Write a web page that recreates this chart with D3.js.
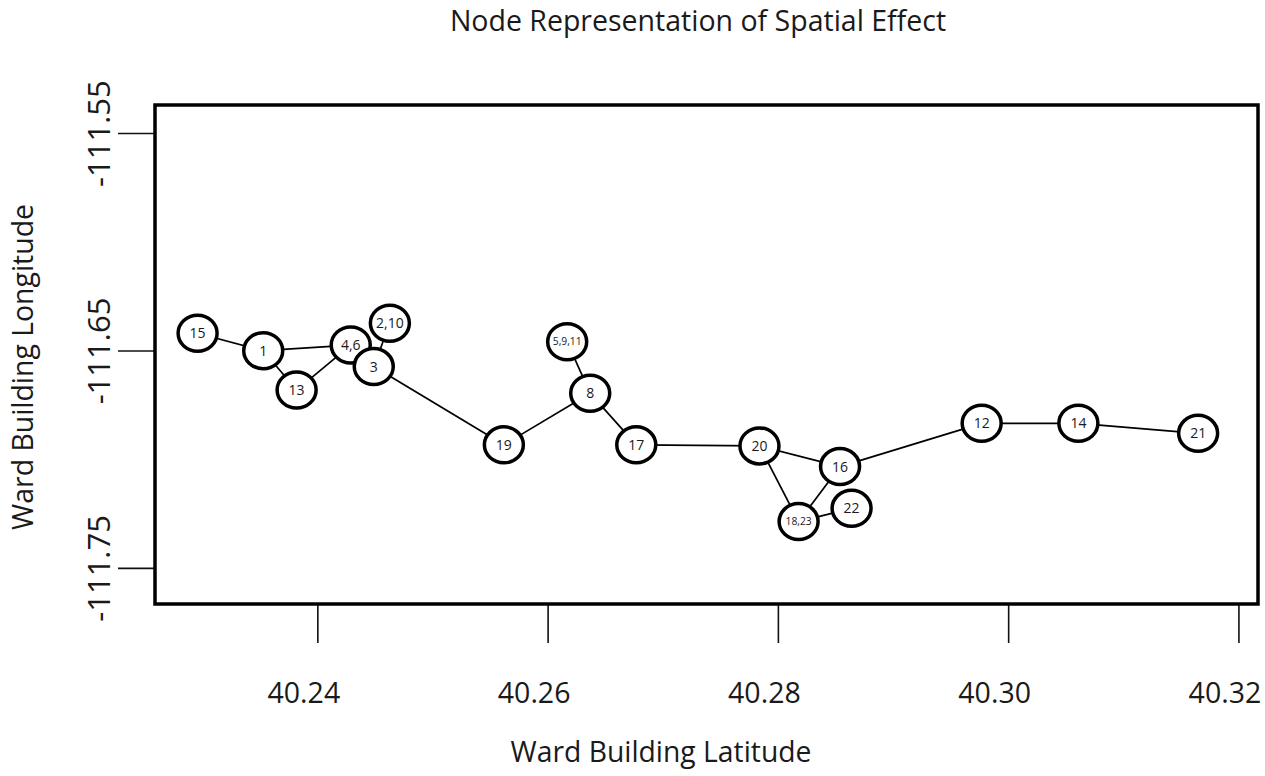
<!DOCTYPE html>
<html>
<head>
<meta charset="utf-8">
<script src="https://cdn.jsdelivr.net/npm/d3@7"></script>
<style>
  body { margin: 0; background: #fff; }
  svg text { font-family: 'Open Sans', sans-serif; fill: #1a1a1a; }
</style>
</head>
<body>
<div id="chart"></div>
<script>
// node labels, in draw order (3 sits on top of 4,6)
const nodeLabels = ['15', '1', '13', '4,6', '3', '2,10', '19', '5,9,11', '8', '17',
  '20', '16', '18,23', '22', '12', '14', '21'];
const nodeLat = [40.2296, 40.2353, 40.2382, 40.2429, 40.2449, 40.2463, 40.2562, 40.2617, 40.2637, 40.2677,
  40.2784, 40.2854, 40.2818, 40.2864, 40.2977, 40.3061, 40.3165];
const nodeLon = [-111.6421, -111.6501, -111.6682, -111.6475, -111.6574, -111.6375, -111.6934, -111.6460, -111.6697, -111.6934,
  -111.6939, -111.7034, -111.7287, -111.7226, -111.6835, -111.6835, -111.6881];
const edgeFrom = ['15', '1', '1', '13', '4,6', '2,10', '3', '19', '8', '8', '17', '20', '20', '16', '18,23', '16', '12', '14'];
const edgeTo = ['1', '4,6', '13', '4,6', '3', '3', '19', '8', '5,9,11', '17', '20', '16', '18,23', '18,23', '22', '12', '14', '21'];
const xTicks = [40.24, 40.26, 40.28, 40.30, 40.32];
const yTicks = [-111.55, -111.65, -111.75];

const width = 1265;
const height = 776;
const box = { left: 155, right: 1258, top: 105, bottom: 604 };

const svg = d3.select('#chart').append('svg')
  .attr('width', width)
  .attr('height', height);

const x = d3.scaleLinear()
  .domain([40.2259, 40.3217])
  .range([box.left, box.right]);
const y = d3.scaleLinear()
  .domain([-111.5371, -111.7666])
  .range([box.top, box.bottom]);

// R style labels: plain hyphen, two decimals
const fmt = (d) => d.toFixed(2);

const nodes = nodeLabels.map((label, i) => ({ label, lat: nodeLat[i], lon: nodeLon[i] }));
const byLabel = new Map(nodes.map((d) => [d.label, d]));
const links = edgeFrom.map((f, i) => ({ source: byLabel.get(f), target: byLabel.get(edgeTo[i]) }));

// title
svg.append('text')
  .attr('x', 698)
  .attr('y', 31)
  .attr('text-anchor', 'middle')
  .attr('font-size', '28.5px')
  .text('Node Representation of Spatial Effect');

// x axis
const xAxis = d3.axisBottom(x)
  .tickValues(xTicks)
  .tickFormat(fmt)
  .tickSize(39)
  .tickPadding(40);

const gx = svg.append('g')
  .attr('class', 'x axis')
  .attr('transform', `translate(0,${box.bottom})`)
  .call(xAxis);
gx.select('.domain').remove();
gx.selectAll('line').attr('stroke', '#111').attr('stroke-width', 1.6);
// labels sit a little left of their ticks, which also keeps 40.32 on the page
gx.selectAll('text')
  .attr('dx', -14)
  .attr('fill', '#1a1a1a')
  .attr('font-family', "'Open Sans', sans-serif")
  .attr('font-size', '28.5px');

// y axis, labels turned on their side
const yAxis = d3.axisLeft(y)
  .tickValues(yTicks)
  .tickFormat(fmt)
  .tickSize(37);

const gy = svg.append('g')
  .attr('class', 'y axis')
  .attr('transform', `translate(${box.left},0)`)
  .call(yAxis);
gy.select('.domain').remove();
gy.selectAll('line').attr('stroke', '#111').attr('stroke-width', 1.6);
gy.selectAll('text')
  .attr('x', null)
  .attr('dy', null)
  .attr('transform', 'translate(-45,0) rotate(-90)')
  .attr('text-anchor', 'middle')
  .attr('fill', '#1a1a1a')
  .attr('font-family', "'Open Sans', sans-serif")
  .attr('font-size', '31px');

// axis titles
svg.append('text')
  .attr('x', 661)
  .attr('y', 762)
  .attr('text-anchor', 'middle')
  .attr('font-size', '28.3px')
  .text('Ward Building Latitude');

svg.append('text')
  .attr('transform', 'translate(33,367) rotate(-90)')
  .attr('text-anchor', 'middle')
  .attr('font-size', '28.4px')
  .text('Ward Building Longitude');

// plot frame
svg.append('rect')
  .attr('x', box.left)
  .attr('y', box.top)
  .attr('width', box.right - box.left)
  .attr('height', box.bottom - box.top)
  .attr('fill', 'none')
  .attr('stroke', '#000')
  .attr('stroke-width', 3.5);

const plots = svg.append('g').attr('class', 'plots');

plots.selectAll('line.edge')
  .data(links)
  .enter()
  .append('line')
  .attr('class', 'edge')
  .attr('x1', (d) => x(d.source.lat))
  .attr('y1', (d) => y(d.source.lon))
  .attr('x2', (d) => x(d.target.lat))
  .attr('y2', (d) => y(d.target.lon))
  .attr('stroke', '#000')
  .attr('stroke-width', 1.7);

const node = plots.selectAll('g.node')
  .data(nodes)
  .enter()
  .append('g')
  .attr('class', 'node')
  .attr('transform', (d) => `translate(${x(d.lat)},${y(d.lon)})`);

node.append('ellipse')
  .attr('rx', 19.5)
  .attr('ry', 18)
  .attr('fill', '#fff')
  .attr('stroke', '#000')
  .attr('stroke-width', 3.5);

// merged nodes with long labels get a smaller font
node.append('text')
  .attr('text-anchor', 'middle')
  .attr('dy', '0.36em')
  .attr('font-size', (d) => d.label.length > 4 ? '10.3px' : '14px')
  .text((d) => d.label);
</script>
</body>
</html>
